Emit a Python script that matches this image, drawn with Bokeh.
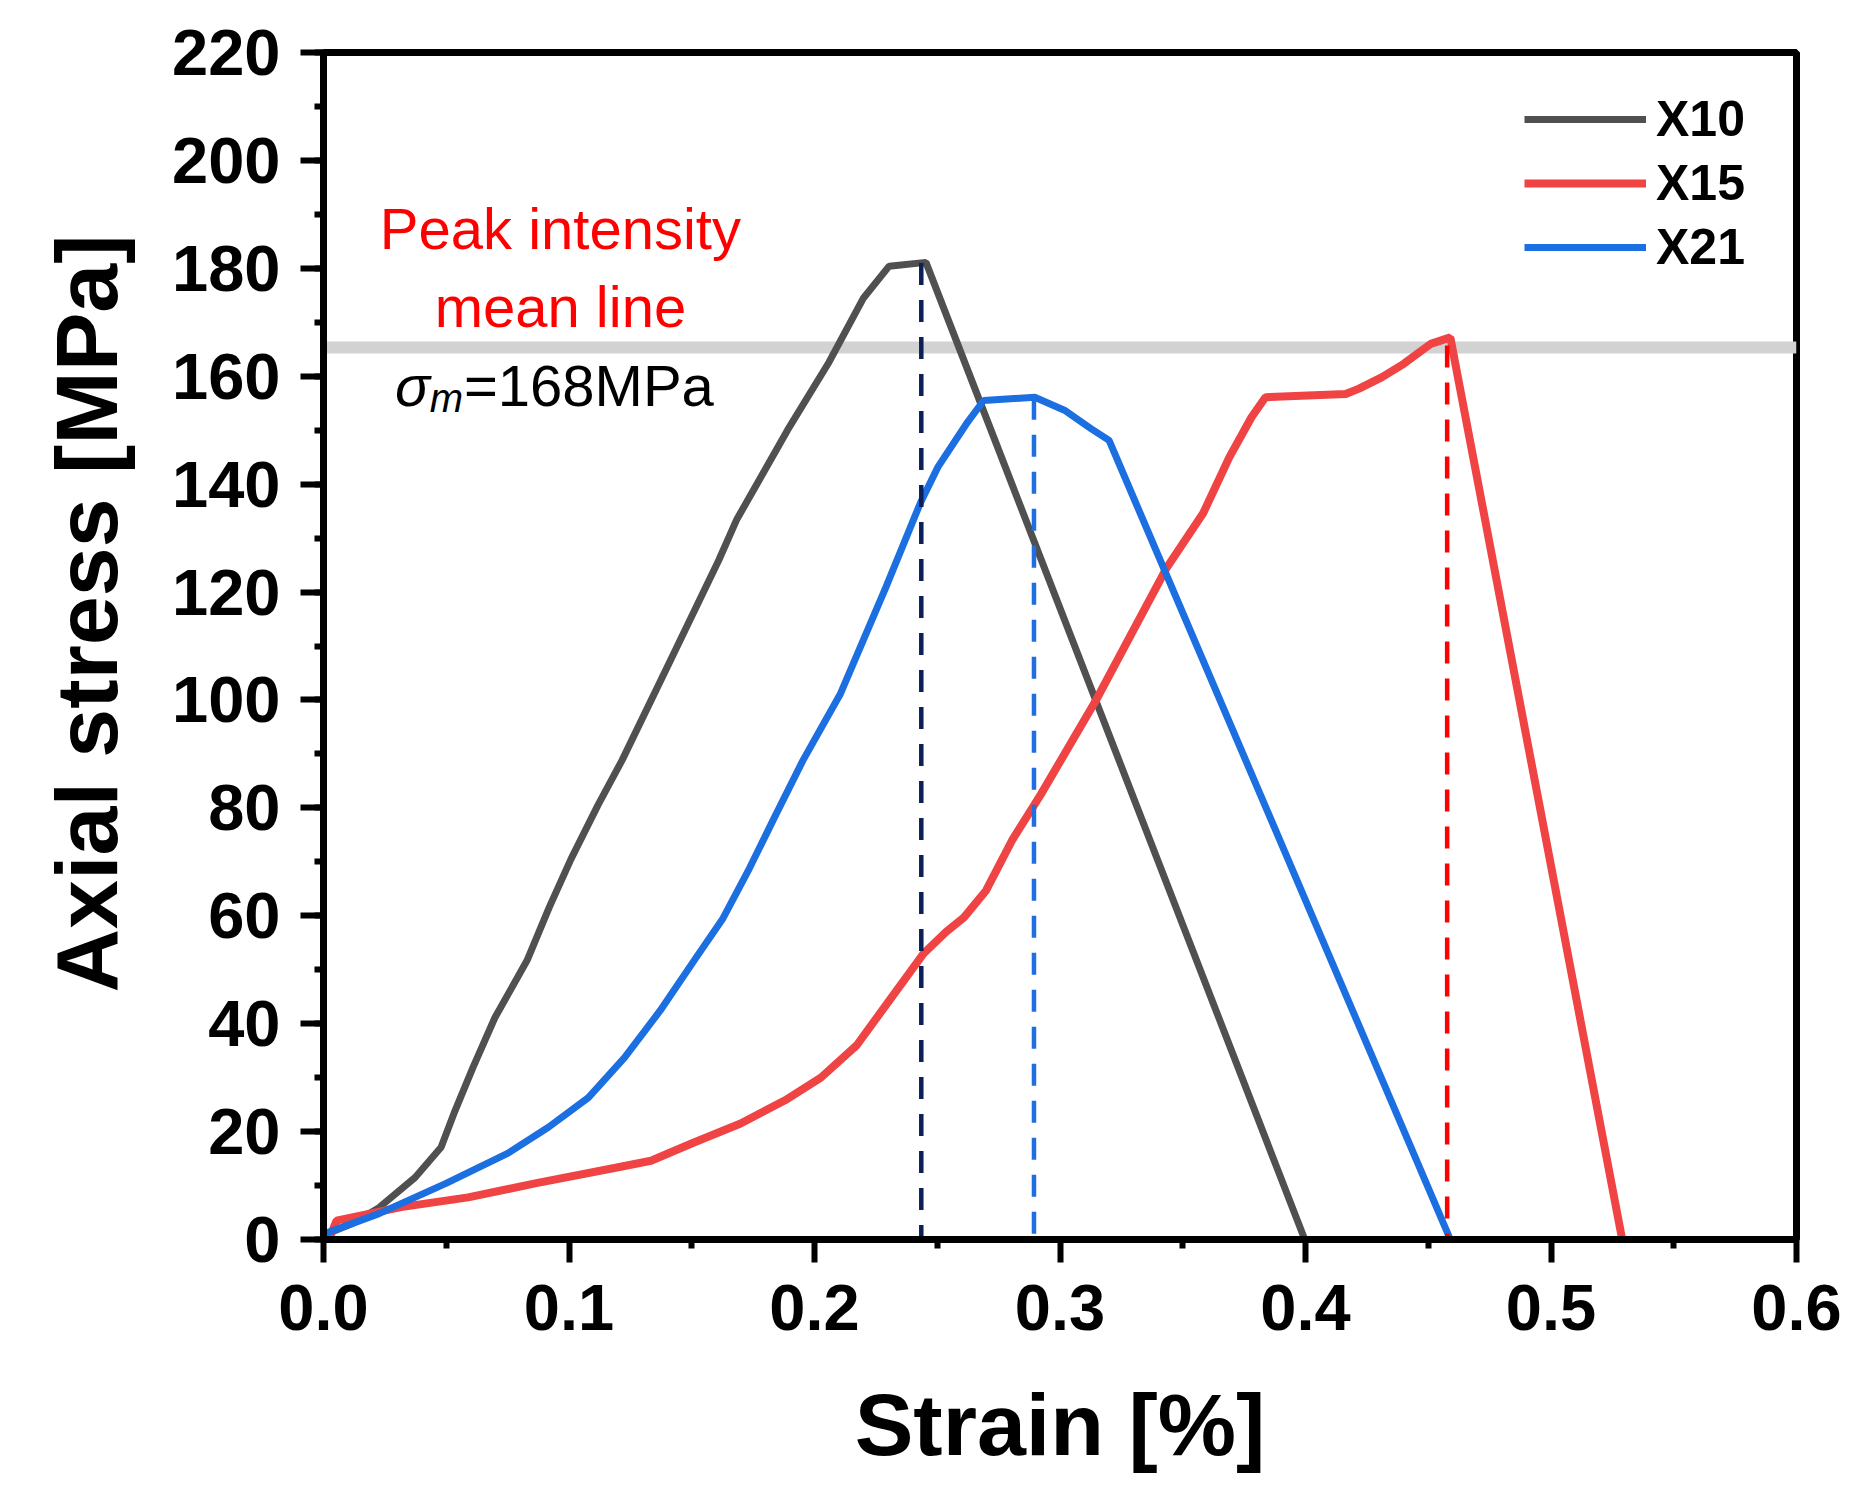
from bokeh.embed import file_html
from bokeh.models import FixedTicker, Label, PrintfTickFormatter, Range1d, SingleIntervalTicker, Title
from bokeh.plotting import figure
from bokeh.resources import INLINE

# Stress-strain curves.
x10_strain = [0.0, 0.012, 0.0226, 0.0373, 0.0479, 0.0536, 0.0609, 0.0698, 0.0829, 0.0919, 0.1008,
              0.1118, 0.1216, 0.1413, 0.161, 0.1684, 0.189, 0.2059, 0.2198, 0.2304, 0.2454, 0.3997]
x10_stress = [0.8, 3.0, 5.9, 11.5, 17.1, 23.9, 31.9, 41.1, 51.7, 61.5, 70.5,
              80.5, 88.8, 107.3, 125.9, 133.5, 150.0, 162.6, 174.4, 180.4, 181.1, 0.0]

x15_strain = [0.0026, 0.0053, 0.0316, 0.0589, 0.0862, 0.119, 0.1334, 0.1499, 0.1699, 0.188, 0.2026,
              0.2172, 0.23, 0.2444, 0.2536, 0.2609, 0.2699, 0.2805, 0.2922, 0.3146, 0.3436, 0.3583,
              0.369, 0.378, 0.3837, 0.4164, 0.4218, 0.431, 0.44, 0.451, 0.459, 0.529]
x15_stress = [0.4, 3.5, 6.0, 7.8, 10.4, 13.3, 14.6, 17.8, 21.5, 25.8, 30.0,
              36.0, 44.0, 53.0, 57.0, 59.7, 64.7, 74.0, 82.5, 99.9, 124.6, 134.6,
              145.0, 152.4, 156.1, 156.7, 157.7, 159.8, 162.3, 166.0, 167.2, 0.0]

x21_strain = [0.0, 0.0226, 0.0499, 0.0752, 0.0916, 0.1079, 0.1226, 0.1371, 0.1517, 0.1627, 0.1735,
              0.1843, 0.1953, 0.2104, 0.2291, 0.2432, 0.2503, 0.2619, 0.2689, 0.2897, 0.3018,
              0.3126, 0.32, 0.459]
x21_stress = [1.0, 4.8, 10.4, 16.0, 20.8, 26.3, 33.7, 42.4, 52.2, 59.5, 68.8,
              78.8, 88.8, 101.0, 120.9, 136.6, 143.2, 151.2, 155.5, 156.1, 153.7,
              150.3, 148.1, 0.0]

series_names = ["X10", "X15", "X21"]
series_strain = [x10_strain, x15_strain, x21_strain]
series_stress = [x10_stress, x15_stress, x21_stress]
series_colors = ["#505050", "#f04343", "#1b6fe0"]
series_widths = [7, 8, 7]

# Peak markers (X10, X21, X15) and the mean peak line.
peak_strain = [0.2435, 0.2894, 0.4577]
peak_stress = [181.0, 156.0, 165.7]
peak_colors = ["#0b2059", "#1f6fe0", "#ff0000"]
mean_stress = 165.4
mean_label = "=168MPa"

x_ticks = [0.0, 0.1, 0.2, 0.3, 0.4, 0.5, 0.6]
x_minor_ticks = [0.05, 0.15, 0.25, 0.35, 0.45, 0.55]

font = "Liberation Sans"

p = figure(frame_width=1473, frame_height=1187,
           x_range=Range1d(0, 0.6), y_range=Range1d(0, 220),
           output_backend="svg", toolbar_location=None,
           min_border_left=322, min_border_top=52, min_border_right=60, min_border_bottom=200)
p.grid.visible = False
p.outline_line_color = "black"
p.outline_line_width = 7
p.background_fill_color = "white"
p.border_fill_color = "white"

# grey band behind the curves
p.hspan(y=[mean_stress], line_width=12, line_color="#d2d2d2")

for name, xs, ys, col, lw in zip(series_names, series_strain, series_stress, series_colors, series_widths):
    p.line(xs, ys, line_width=lw, line_color=col, legend_label=name)

p.segment(x0=peak_strain, y0=peak_stress, x1=peak_strain, y1=[0.0] * len(peak_strain),
          line_color=peak_colors, line_width=4.5, line_dash="22 15")

# axes
p.xaxis.ticker = FixedTicker(ticks=x_ticks, minor_ticks=x_minor_ticks)
p.yaxis.ticker = SingleIntervalTicker(interval=20, num_minor_ticks=2)
p.xaxis.formatter = PrintfTickFormatter(format="%.1f")
p.yaxis.formatter = PrintfTickFormatter(format="%d")
for ax in (p.xaxis, p.yaxis):
    ax.axis_line_width = 7
    ax.axis_line_color = "black"
    ax.major_tick_line_width = 6
    ax.minor_tick_line_width = 6
    ax.major_tick_in = 0
    ax.major_tick_out = 23
    ax.minor_tick_in = 0
    ax.minor_tick_out = 9
    ax.major_label_text_font = font
    ax.major_label_text_font_style = "bold"
    ax.major_label_text_font_size = "65px"
    ax.major_label_text_color = "black"
p.xaxis.major_label_standoff = 22
p.yaxis.major_label_standoff = 20

p.xaxis.axis_label = "Strain [%]"
p.xaxis.axis_label_standoff = 42
p.xaxis.axis_label_text_font = font
p.xaxis.axis_label_text_font_style = "bold"
p.xaxis.axis_label_text_font_size = "88px"
p.xaxis.axis_label_text_color = "black"

# y title starts 247px above the frame bottom in the reference
p.add_layout(Title(text="Axial stress [MPa]", align="left", offset=247, standoff=68,
                   text_font=font, text_font_style="bold", text_font_size="88px",
                   text_color="black"), "left")

# annotations
p.add_layout(Label(x=0.0965, y=187.3, text="Peak intensity", text_align="center",
                   text_baseline="alphabetic", text_font=font, text_font_size="58px",
                   text_color="#ff0000"))
p.add_layout(Label(x=0.0965, y=172.9, text="mean line", text_align="center",
                   text_baseline="alphabetic", text_font=font, text_font_size="58px",
                   text_color="#ff0000"))
p.add_layout(Label(x=0.0291, y=158.3, text="σ", text_baseline="alphabetic", text_font=font,
                   text_font_style="italic", text_font_size="58px", text_color="black"))
p.add_layout(Label(x=0.0433, y=156.0, text="m", text_baseline="alphabetic", text_font=font,
                   text_font_style="italic", text_font_size="40px", text_color="black"))
p.add_layout(Label(x=0.0572, y=158.3, text=mean_label, text_baseline="alphabetic", text_font=font,
                   text_font_size="58px", text_color="black"))

# legend
lg = p.legend[0]
lg.location = (1201, 963)
lg.padding = 0
lg.margin = 0
lg.border_line_alpha = 0
lg.background_fill_alpha = 0
lg.glyph_width = 122
lg.glyph_height = 58
lg.label_height = 58
lg.spacing = 6
lg.label_standoff = 10
lg.label_text_font = font
lg.label_text_font_style = "bold"
lg.label_text_font_size = "50px"
lg.label_text_color = "black"

open("out.html", "w").write(file_html(p, INLINE))
